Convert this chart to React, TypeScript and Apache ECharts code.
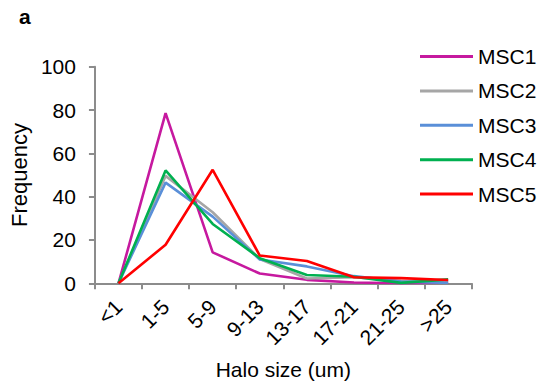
import React, { useEffect, useRef } from "react";
import * as echarts from "echarts";

const categories = ["<1", "1-5", "5-9", "9-13", "13-17", "17-21", "21-25", ">25"];
const seriesNames = ["MSC1", "MSC2", "MSC3", "MSC4", "MSC5"];
const msc1 = [0, 78.6, 14.3, 4.5, 1.6, 0.4, 0, 0.3];
const msc2 = [0, 49.6, 32.8, 11.2, 2.2, 2.8, 1.1, 0.8];
const msc3 = [0, 46.5, 30.8, 11.0, 7.8, 3.3, 0.8, 0.2];
const msc4 = [0, 52.1, 27.4, 11.6, 3.8, 3.0, 0.2, 1.8];
const msc5 = [0, 17.8, 52.4, 12.8, 10.3, 2.8, 2.4, 1.5];
const colors = ["#C6199F", "#A6A6A6", "#5A8FD8", "#00B050", "#FF0000"];
const yTicks = { min: 0, max: 100, interval: 20 };

const FONT = "'Liberation Sans', Arial, Helvetica, sans-serif";

export default function App() {
  const ref = useRef<HTMLDivElement>(null);
  useEffect(() => {
    if (!ref.current) return;
    const chart = echarts.init(ref.current, null, { renderer: "svg" });
    const allData = [msc1, msc2, msc3, msc4, msc5];
    chart.setOption({
      animation: false,
      backgroundColor: "#ffffff",
      textStyle: { fontFamily: FONT, color: "#000" },
      graphic: [
        {
          type: "text",
          left: 19,
          top: 6,
          style: { text: "a", font: `bold 21px ${FONT}`, fill: "#000" },
        },
      ],
      legend: {
        orient: "vertical",
        left: 420,
        top: 46,
        padding: 0,
        itemWidth: 53,
        itemHeight: 3,
        itemGap: 13.4,
        icon: "rect",
        textStyle: { fontSize: 21, fontFamily: FONT, color: "#000", lineHeight: 21 },
        data: seriesNames,
      },
      grid: { left: 91.7, right: 68.3, top: 66.7, bottom: 108.7, containLabel: false },
      xAxis: {
        type: "category",
        data: categories,
        boundaryGap: true,
        name: "Halo size (um)",
        nameLocation: "middle",
        nameGap: 76,
        nameTextStyle: { fontSize: 21, fontFamily: FONT, color: "#000" },
        axisLine: { lineStyle: { color: "#8C8C8C", width: 2 } },
        axisTick: { show: true, length: 6, lineStyle: { color: "#8C8C8C", width: 2 } },
        axisLabel: { rotate: 45, fontSize: 21, fontFamily: FONT, color: "#000", margin: 20, interval: 0 },
        splitLine: { show: false },
      },
      yAxis: {
        type: "value",
        min: yTicks.min,
        max: yTicks.max,
        interval: yTicks.interval,
        name: "Frequency",
        nameLocation: "middle",
        nameGap: 63,
        nameTextStyle: { fontSize: 22, fontFamily: FONT, color: "#000" },
        axisLine: { show: true, lineStyle: { color: "#8C8C8C", width: 2 } },
        axisTick: { show: true, length: 6, lineStyle: { color: "#8C8C8C", width: 2 } },
        axisLabel: { fontSize: 21, fontFamily: FONT, color: "#000", margin: 19 },
        splitLine: { show: false },
      },
      series: seriesNames.map((n, i) => ({
        name: n,
        type: "line",
        data: allData[i],
        symbol: "none",
        lineStyle: { color: colors[i], width: 2.6 },
        itemStyle: { color: colors[i] },
      })),
    });
    return () => chart.dispose();
  }, []);
  return <div ref={ref} style={{ width: 540, height: 392, position: "absolute", left: 0, top: 0 }} />;
}
